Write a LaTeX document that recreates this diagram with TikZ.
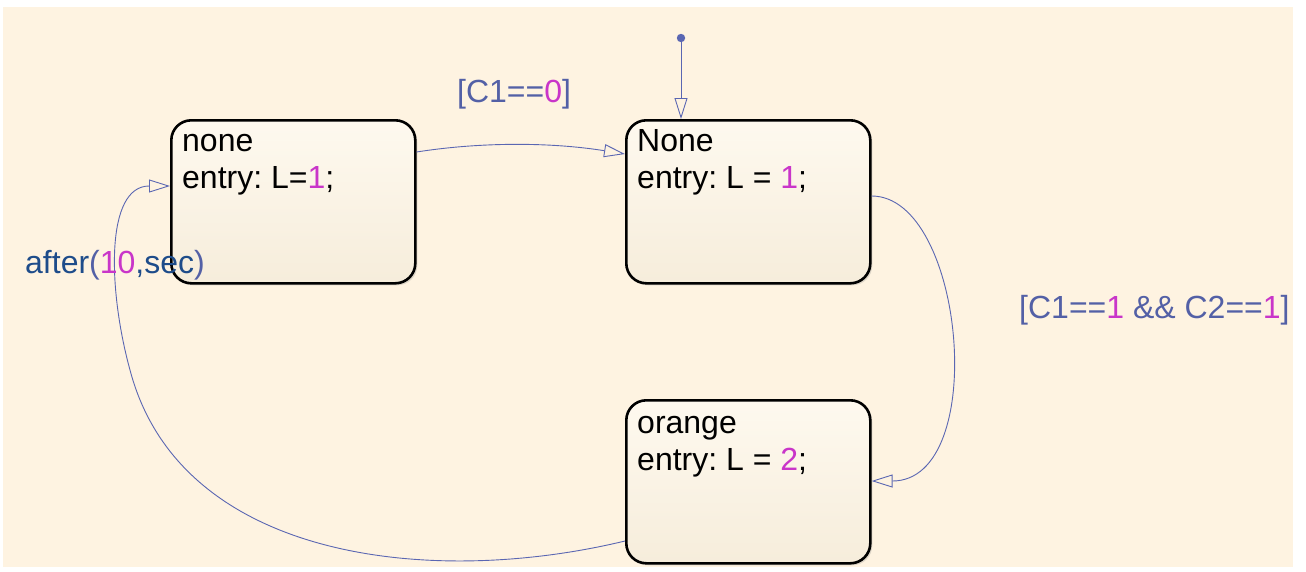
\documentclass[tikz,border=0pt]{standalone}
\usepackage{fontspec}
\setmainfont{Liberation Sans}
\usetikzlibrary{arrows.meta,shadows,calc}
\frenchspacing

\definecolor{paper}{HTML}{FEF3E1}
\definecolor{wire}{HTML}{5A66B2}
\definecolor{cond}{HTML}{5360A6}
\definecolor{kw}{HTML}{1E4C8A}
\definecolor{num}{HTML}{C935C9}
\definecolor{boxtop}{HTML}{FEF9EF}
\definecolor{boxbot}{HTML}{F6EDDB}

\tikzset{
  state/.style={draw=black, line width=2.6pt, rounded corners=20pt,
    minimum width=244pt, minimum height=163pt, anchor=north west, inner sep=0pt,
    top color=boxtop, bottom color=boxbot,
    drop shadow={shadow xshift=2pt, shadow yshift=-2pt, opacity=0.25}},
  stxt/.style={anchor=base west, inner sep=0pt, text=black},
  lbl/.style={anchor=base west, inner sep=0pt, text=cond},
  trans/.style={draw=wire, line width=0.9pt,
    -{Triangle[open, length=21pt, width=13pt, line width=0.9pt]}},
  big/.style={font=\fontsize{32}{37}\selectfont}
}

\begin{document}
\begin{tikzpicture}[x=1pt, y=-1pt, big]
  % canvas
  \fill[white] (0,0) rectangle (1306,571);
  \fill[paper] (3,7) rectangle (1293,567);
  \useasboundingbox (0,0) rectangle (1306,571);

  % states
  \node[state] (none)   at (170,119) {};
  \node[state] (None)   at (625,119) {};
  \node[state] (orange) at (625,399) {};

  \node[stxt] (noneA)   at (182,151) {none};
  \node[stxt] (noneB)   at (182,188) {entry: L=\textcolor{num}{1};};
  \node[stxt] (NoneA)   at (637,151) {None};
  \node[stxt] (NoneB)   at (637,188) {entry: L = \textcolor{num}{1};};
  \node[stxt] (orangeA) at (637,433) {orange};
  \node[stxt] (orangeB) at (637,470) {entry: L = \textcolor{num}{2};};

  % default transition
  \coordinate (init) at (681,38);
  \fill[wire] (init) circle (4.2pt);
  \draw[trans] (init) -- ([xshift=56pt]None.north west);

  % transitions between states
  \draw[trans] ([yshift=-33pt]none.north east)
    .. controls (480,142) and (550,142) .. ([yshift=-35pt]None.north west);

  \draw[trans] ([yshift=-77pt]None.north east)
    .. controls (965,196) and (990,481) .. ([yshift=-82pt]orange.north east);

  \draw[trans] ([yshift=-142pt]orange.north west)
    .. controls (430,588) and (180,560) .. (130,370)
    .. controls (108,290) and (105,186) .. ([yshift=-67pt]none.north west);

  % transition labels
  \node[lbl] (c0) at (457,102) {[C1==\textcolor{num}{0}]};
  \node[lbl] (c1) at (1019,318) {[C1==\textcolor{num}{1} \&\& C2==\textcolor{num}{1}]};
  \node[lbl] (tm) at (25,273) {\textcolor{kw}{after}(\textcolor{num}{10}\textcolor{kw}{,sec})};
\end{tikzpicture}
\end{document}
